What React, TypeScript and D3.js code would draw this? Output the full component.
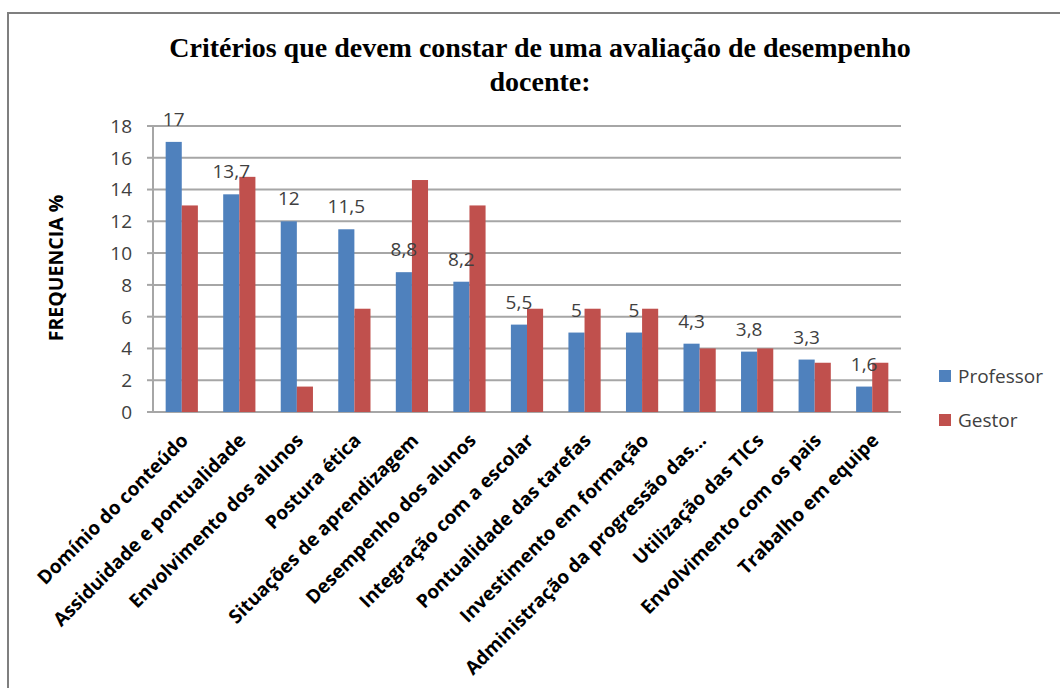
import React from 'react';
import * as d3 from 'd3';

const categories = [
  'Domínio do conteúdo',
  'Assiduidade e pontualidade',
  'Envolvimento dos alunos',
  'Postura ética',
  'Situações de aprendizagem',
  'Desempenho dos alunos',
  'Integração com a escolar',
  'Pontualidade das tarefas',
  'Investimento em formação',
  'Administração da progressão das...',
  'Utilização das TICs',
  'Envolvimento com os pais',
  'Trabalho em equipe',
];
const professor = [17, 13.7, 12, 11.5, 8.8, 8.2, 5.5, 5, 5, 4.3, 3.8, 3.3, 1.6];
const gestor = [13, 14.8, 1.6, 6.5, 14.6, 13, 6.5, 6.5, 6.5, 4, 4, 3.1, 3.1];
const seriesNames = ['Professor', 'Gestor'];
const seriesColors = ['#4F81BD', '#C0504D'];
const yTicks = [0, 2, 4, 6, 8, 10, 12, 14, 16, 18];
const titleLines = ['Critérios que devem constar de uma avaliação de desempenho', 'docente:'];
const yTitle = 'FREQUENCIA %';

const W = 1060;
const H = 688;
const left = 153;
const right = 901;
const top = 126;
const bottom = 412;
const sans = '"Open Sans", Lato, sans-serif';

export default function App() {
  const x0 = d3.scaleBand<string>().domain(categories).range([left, right]).paddingInner(0.44).paddingOuter(0.22);
  const x1 = d3.scaleBand<string>().domain(seriesNames).range([0, x0.bandwidth()]);
  const y = d3.scaleLinear().domain([0, 18]).range([bottom, top]);
  const series = [professor, gestor];

  return (
    <svg width={W} height={H} style={{ position: 'absolute', left: 0, top: 0, background: '#fff' }}>
      <rect x={0} y={0} width={W} height={H} fill="#fff" />
      <rect x={8} y={13} width={1200} height={800} fill="none" stroke="#7f7f7f" strokeWidth={2} />
      {titleLines.map((t, i) => (
        <text key={i} x={540} y={57 + i * 34} textAnchor="middle" fontFamily='"Liberation Serif", "Times New Roman", serif' fontWeight="bold" fontSize={28} fill="#000">{t}</text>
      ))}
      {yTicks.map((t) => (
        <g key={t}>
          <line x1={left} x2={right} y1={y(t)} y2={y(t)} stroke="#a6a6a6" strokeWidth={2} />
          <line x1={left - 6} x2={left} y1={y(t)} y2={y(t)} stroke="#a6a6a6" strokeWidth={2} />
          <text x={132} y={y(t)} dy="0.36em" textAnchor="end" fontFamily={sans} fontSize={19} fill="#404040">{t}</text>
        </g>
      ))}
      <line x1={left} x2={left} y1={top} y2={bottom} stroke="#a6a6a6" strokeWidth={2} />
      <text transform={`translate(63,268) rotate(-90)`} textAnchor="middle" fontFamily={sans} fontWeight="bold" fontSize={19.5} fill="#000">{yTitle}</text>
      {categories.map((c, ci) => (
        <g key={c}>
          {series.map((s, si) => (
            <rect key={si} x={(x0(c) as number) + (x1(seriesNames[si]) as number)} y={y(s[ci])} width={x1.bandwidth()} height={bottom - y(s[ci])} fill={seriesColors[si]} />
          ))}
          <text x={(x0(c) as number) + (x1('Professor') as number) + x1.bandwidth() / 2} y={y(professor[ci]) - 16} textAnchor="middle" fontFamily={sans} fontSize={19} fill="#404040">{String(professor[ci]).replace('.', ',')}</text>
          <text transform={`translate(${(x0(c) as number) + x0.bandwidth() / 2 - 2},${432}) rotate(-45)`} dy="0.72em" textAnchor="end" fontFamily={sans} fontWeight="bold" fontSize={19} fill="#000">{c}</text>
        </g>
      ))}
      {seriesNames.map((n, i) => (
        <g key={n}>
          <rect x={939} y={370 + i * 44} width={12} height={12} fill={seriesColors[i]} />
          <text x={958} y={376 + i * 44} dy="0.36em" fontFamily={sans} fontSize={19} fill="#404040">{n}</text>
        </g>
      ))}
    </svg>
  );
}
